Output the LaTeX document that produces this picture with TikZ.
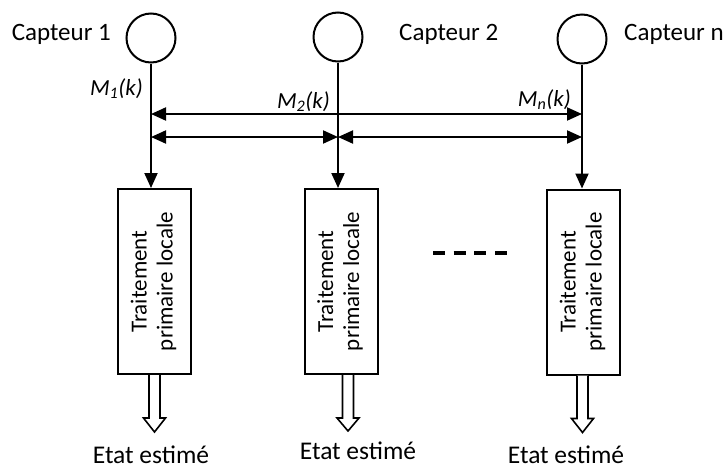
\documentclass[tikz,border=0pt]{standalone}
\usepackage{fontspec}
\setmainfont{Carlito}
\usetikzlibrary{arrows.meta}

\tikzset{
  sensor/.style={circle, draw, line width=2pt, minimum size=49pt, inner sep=0pt},
  procbox/.style={draw, line width=2pt, minimum width=73pt, minimum height=185pt,
    inner sep=0pt, align=center, font=\fontsize{23}{26}\selectfont},
  link/.style={line width=2pt},
  tip/.style={-{Triangle[length=15pt,width=13pt]}},
  twotips/.style={{Triangle[length=15pt,width=13pt]}-{Triangle[length=15pt,width=13pt]}},
  lbl/.style={inner sep=0pt, font=\fontsize{25}{30}\selectfont},
  outlbl/.style={inner sep=0pt, font=\fontsize{25.5}{30}\selectfont},
  meas/.style={inner sep=0pt, font=\fontsize{23}{28}\selectfont\itshape},
  hollow/.style={draw, line width=1.6pt, fill=white, line join=miter},
  dots/.style={line width=4pt, dash pattern=on 12pt off 8.7pt}
}

\begin{document}
\begin{tikzpicture}[x=1pt, y=-1pt]
  \useasboundingbox (0,0) rectangle (727,469);

  % sensors
  \node[sensor] (c1) at (151,38) {};
  \node[sensor] (c2) at (338,37) {};
  \node[sensor] (c3) at (582,39) {};

  \node[lbl, anchor=base east] (t1) at (111,40) {Capteur 1};
  \node[lbl, anchor=base west] (t2) at (399,40) {Capteur 2};
  \node[lbl, anchor=base west] (t3) at (624,40) {Capteur n};

  % local processing blocks
  \node[procbox] (b1) at (154.5,281.5) {\rotatebox{90}{\begin{tabular}{@{}c@{}}Traitement\\primaire locale\end{tabular}}};
  \node[procbox] (b2) at (341,281.5) {\rotatebox{90}{\begin{tabular}{@{}c@{}}Traitement\\primaire locale\end{tabular}}};
  \node[procbox] (b3) at (583.5,282) {\rotatebox{90}{\begin{tabular}{@{}c@{}}Traitement\\primaire locale\end{tabular}}};

  % measurements flowing down
  \draw[link, tip] (c1.south) -- (c1.south |- b1.north);
  \draw[link, tip] (c2.south) -- (c2.south |- b2.north);
  \draw[link, tip] (c3.south) -- (c3.south |- b3.north);

  \node[meas, anchor=base east] (m1) at (143,95) {M\textsubscript{1}(k)};
  \node[meas, anchor=base east] (m2) at (330,108) {M\textsubscript{2}(k)};
  \node[meas, anchor=base east] (m3) at (571,106) {M\textsubscript{n}(k)};

  % exchanges between sensors
  \coordinate (upper) at (0,114);
  \coordinate (lower) at (0,137);
  \draw[link, twotips] (c1.south |- upper) -- (c3.south |- upper);
  \draw[link, twotips] (c1.south |- lower) -- (c2.south |- lower);
  \draw[link, twotips] (c2.south |- lower) -- (c3.south |- lower);

  % further blocks
  \coordinate (d1) at (433,253);
  \coordinate (d2) at (507,253);
  \draw[dots] (d1) -- (d2);

  % estimated state outputs
  \draw[hollow, shift={(b1.south)}] (-5.5,0) -- (-5.5,43) -- (-11,43) -- (0,57) -- (11,43) -- (5.5,43) -- (5.5,0);
  \draw[hollow, shift={(b2.south)}, xshift=7pt] (-5.5,0) -- (-5.5,43) -- (-11,43) -- (0,56) -- (11,43) -- (5.5,43) -- (5.5,0);
  \draw[hollow, shift={(b3.south)}, xshift=-1pt] (-5.5,0) -- (-5.5,43) -- (-11,43) -- (0,57) -- (11,43) -- (5.5,43) -- (5.5,0);

  \node[outlbl, anchor=base] (e1) at (151,463) {Etat estimé};
  \node[outlbl, anchor=base] (e2) at (358,459) {Etat estimé};
  \node[outlbl, anchor=base] (e3) at (566,463) {Etat estimé};
\end{tikzpicture}
\end{document}
